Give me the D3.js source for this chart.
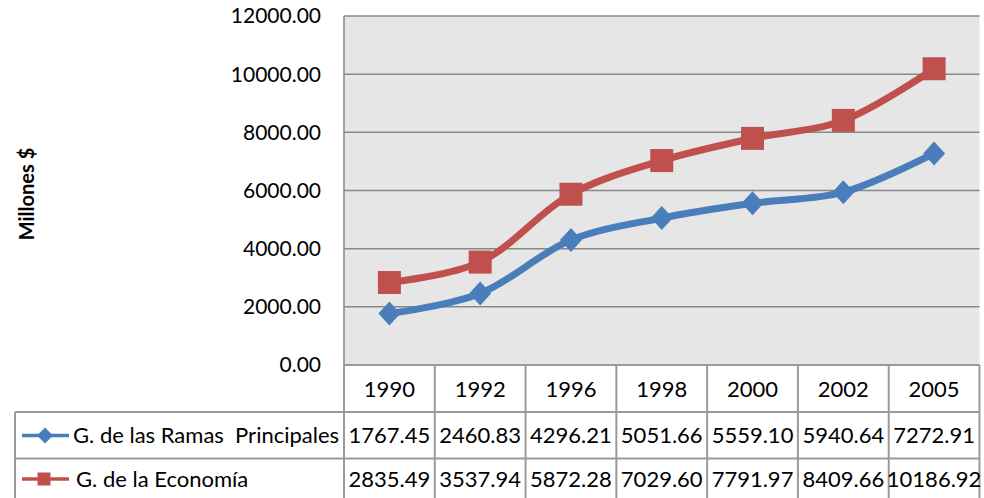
<!DOCTYPE html>
<html><head><meta charset="utf-8">
<script src="https://cdn.jsdelivr.net/npm/d3@7"></script>
<style>
html,body{margin:0;padding:0;background:#fff;}
svg{display:block;font-family:Lato, "Open Sans", sans-serif;}
</style></head>
<body>
<svg id="chart" width="984" height="498"></svg>
<script>
const years = ["1990","1992","1996","1998","2000","2002","2005"];
const ramas = [1767.45,2460.83,4296.21,5051.66,5559.10,5940.64,7272.91];
const economia = [2835.49,3537.94,5872.28,7029.60,7791.97,8409.66,10186.92];
const seriesNames = ["G. de las Ramas  Principales","G. de la Economía"];
const yTicks = [0,2000,4000,6000,8000,10000,12000];

const svg = d3.select("#chart");
const L = 344, R = 979.5, T = 16, B = 365;
const x = d3.scaleBand().domain(years).range([L,R]);
const y = d3.scaleLinear().domain([0,12000]).range([B,T]);
const grid = "#888888", border = "#9a9a9a";
const tfs = 22;

// plot background
svg.append("rect").attr("x",L).attr("y",T).attr("width",R-L).attr("height",B-T).attr("fill","#e6e6e6");
// gridlines
svg.append("g").selectAll("line").data(yTicks.filter(d=>d>0)).join("line")
  .attr("x1",L).attr("x2",R).attr("y1",d=>y(d)).attr("y2",d=>y(d))
  .attr("stroke",grid).attr("stroke-width",1.5);
// y axis line
svg.append("line").attr("x1",L).attr("x2",L).attr("y1",T).attr("y2",B).attr("stroke",grid).attr("stroke-width",1.5);
// y tick labels
const yAxis = d3.axisLeft(y).tickValues(yTicks).tickFormat(d3.format(".2f")).tickSize(0).tickPadding(0);
const ya = svg.append("g").attr("transform",`translate(321,0)`).call(yAxis);
ya.select(".domain").remove();
ya.selectAll("text").attr("font-size",21).attr("fill","#000").attr("font-family","Lato, sans-serif").attr("dy","0.33em");

// axis title
svg.append("text").attr("transform","translate(34,194) rotate(-90)").attr("text-anchor","middle")
  .attr("font-size",20).attr("font-weight","bold").text("Millones $");

// series lines
const series = [
  {name:seriesNames[0], values:ramas, color:"#4a7ebb", shape:"diamond"},
  {name:seriesNames[1], values:economia, color:"#c0504d", shape:"square"}
];
const line = d3.line().x((d,i)=>x(years[i])+x.bandwidth()/2).y(d=>y(d)).curve(d3.curveCatmullRom.alpha(0.5));
function drawMarker(g, shape, color, cx, cy){
  if(shape==="diamond"){
    g.append("path").attr("d",`M${cx},${cy-12}L${cx+11},${cy}L${cx},${cy+12}L${cx-11},${cy}Z`).attr("fill",color);
  } else {
    g.append("rect").attr("x",cx-11.5).attr("y",cy-11.5).attr("width",23).attr("height",23).attr("fill",color);
  }
}
series.forEach(s=>{
  svg.append("path").datum(s.values).attr("d",line).attr("fill","none").attr("stroke",s.color).attr("stroke-width",7).attr("stroke-linejoin","round");
  const g = svg.append("g");
  s.values.forEach((v,i)=>drawMarker(g,s.shape,s.color,x(years[i])+x.bandwidth()/2,y(v)));
});

// data table
const rowBot = 498;
const tb = svg.append("g");
tb.append("line").attr("x1",15).attr("x2",R).attr("y1",412).attr("y2",412).attr("stroke",border).attr("stroke-width",2);
tb.append("line").attr("x1",15).attr("x2",R).attr("y1",458.5).attr("y2",458.5).attr("stroke",border).attr("stroke-width",2);
tb.append("line").attr("x1",L).attr("x2",R).attr("y1",B).attr("y2",B).attr("stroke",border).attr("stroke-width",2);
const vx = years.map(d=>x(d)).concat([R]);
tb.selectAll("line.v").data(vx).join("line").attr("class","v")
  .attr("x1",d=>d).attr("x2",d=>d).attr("y1",B).attr("y2",rowBot).attr("stroke",border).attr("stroke-width",2);
tb.append("line").attr("x1",15).attr("x2",15).attr("y1",412).attr("y2",rowBot).attr("stroke",border).attr("stroke-width",2);
tb.selectAll("text.yr").data(years).join("text").attr("class","yr")
  .attr("x",d=>x(d)+x.bandwidth()/2).attr("y",389).attr("dy","0.35em").attr("text-anchor","middle")
  .attr("font-size",tfs).text(d=>d);
const rowsMid = [435.5, 479];
series.forEach((s,r)=>{
  tb.selectAll(null).data(s.values).join("text")
    .attr("x",(d,i)=>x(years[i])+x.bandwidth()/2).attr("y",rowsMid[r]).attr("dy","0.35em").attr("text-anchor","middle")
    .attr("font-size",tfs).text(d=>d3.format(".2f")(d));
  tb.append("line").attr("x1",22).attr("x2",69).attr("y1",rowsMid[r]).attr("y2",rowsMid[r]).attr("stroke",s.color).attr("stroke-width",3.5);
  if(s.shape==="diamond"){
    tb.append("path").attr("d",`M45,${rowsMid[r]-8}L53,${rowsMid[r]}L45,${rowsMid[r]+8}L37,${rowsMid[r]}Z`).attr("fill",s.color);
  } else {
    tb.append("rect").attr("x",37.5).attr("y",rowsMid[r]-6.5).attr("width",13).attr("height",13).attr("fill",s.color);
  }
  tb.append("text").attr("x",r===0?73:76).attr("y",rowsMid[r]).attr("dy","0.35em").attr("font-size",tfs).attr("xml:space","preserve").text(s.name);
});
</script>
</body></html>
